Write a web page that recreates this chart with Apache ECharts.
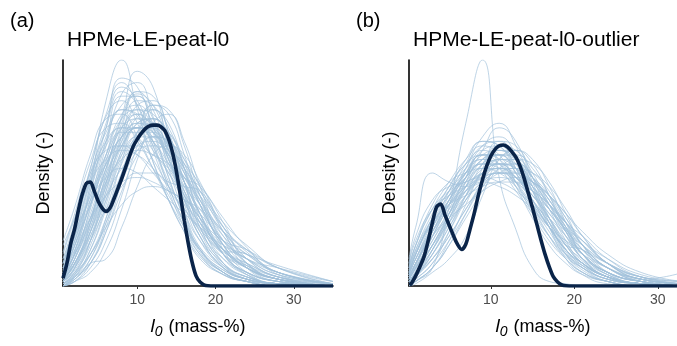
<!DOCTYPE html>
<html lang="en">
<head>
<meta charset="UTF-8">
<title>l0 densities</title>
<script src="https://cdn.jsdelivr.net/npm/echarts@6/dist/echarts.min.js"></script>
<style>
  html, body { margin: 0; padding: 0; background: #fff; }
  #main { width: 677px; height: 346px; }
</style>
</head>
<body>
<div id="main"></div>
<script>
// density values are stored x1000 (the y axis carries no labels)
var xTicks = [10, 20, 30];

// panel (a): HPMe-LE-peat-l0
var gridXA = [0.5, 2, 4, 6, 8, 10, 12, 14, 16, 18, 21, 24, 28, 35];
var curvesA = [
  [3, 15, 45, 82, 100, 78, 55, 38, 24, 12, 5, 2, 0, 0],
  [1, 8, 28, 55, 75, 95, 88, 60, 34, 17, 6, 2, 0, 0],
  [5, 18, 42, 70, 92, 88, 70, 48, 30, 15, 6, 2, 0, 0],
  [2, 12, 35, 62, 85, 90, 75, 52, 32, 16, 6, 2, 1, 0],
  [8, 22, 48, 72, 88, 82, 64, 44, 28, 14, 5, 2, 0, 0],
  [0, 5, 20, 45, 70, 85, 80, 62, 40, 22, 8, 3, 1, 0],
  [10, 25, 50, 68, 78, 75, 62, 46, 32, 20, 9, 4, 1, 0],
  [4, 14, 34, 58, 76, 80, 72, 56, 38, 22, 10, 4, 1, 0],
  [12, 28, 52, 75, 82, 72, 55, 38, 24, 13, 5, 2, 0, 0],
  [2, 10, 26, 48, 68, 78, 76, 64, 46, 28, 12, 5, 1, 0],
  [6, 20, 44, 66, 80, 84, 74, 56, 36, 20, 8, 3, 1, 0],
  [1, 6, 18, 38, 60, 75, 78, 70, 52, 32, 14, 6, 2, 0],
  [15, 32, 55, 70, 72, 64, 52, 40, 28, 17, 8, 3, 1, 0],
  [3, 12, 30, 50, 62, 70, 70, 62, 50, 36, 18, 8, 2, 0],
  [0, 3, 12, 30, 55, 72, 74, 66, 50, 32, 14, 6, 2, 0],
  [20, 35, 58, 74, 76, 66, 52, 38, 26, 16, 7, 3, 1, 0],
  [5, 16, 36, 56, 70, 74, 68, 56, 42, 28, 14, 8, 3, 0],
  [2, 10, 24, 44, 64, 80, 82, 68, 46, 26, 10, 4, 1, 0],
  [8, 24, 46, 62, 70, 70, 64, 54, 42, 30, 16, 9, 3, 0],
  [1, 4, 10, 24, 46, 66, 80, 76, 58, 36, 14, 5, 1, 0],
  [10, 26, 48, 64, 70, 66, 56, 44, 34, 25, 15, 10, 4, 0],
  [3, 10, 22, 38, 56, 68, 72, 68, 56, 40, 20, 9, 3, 0],
  [0, 2, 8, 20, 40, 62, 78, 72, 52, 30, 10, 3, 0, 0],
  [6, 18, 36, 54, 66, 70, 66, 58, 46, 32, 16, 14, 6, 1],
  [4, 12, 30, 52, 72, 86, 84, 68, 46, 26, 10, 4, 1, 0],
  [2, 6, 14, 28, 46, 60, 66, 64, 56, 44, 26, 16, 6, 1],
  [14, 30, 50, 60, 62, 58, 50, 42, 34, 26, 16, 10, 4, 1],
  [0, 4, 16, 36, 58, 70, 70, 60, 46, 32, 16, 8, 3, 0],
  [5, 14, 28, 44, 58, 66, 66, 60, 50, 38, 22, 14, 6, 1],
  [2, 8, 22, 42, 62, 74, 72, 60, 44, 30, 14, 6, 2, 0],
  [1, 3, 10, 12, 26, 44, 58, 62, 58, 46, 26, 12, 4, 0],
  [8, 20, 40, 58, 68, 68, 60, 50, 40, 30, 20, 16, 8, 1],
  [3, 10, 24, 40, 52, 60, 62, 60, 54, 45, 30, 17, 5, 0],
  [1, 5, 16, 34, 54, 66, 68, 62, 52, 42, 24, 10, 3, 0],
  [18, 30, 46, 56, 60, 58, 52, 44, 36, 28, 16, 8, 3, 0],
  [4, 15, 38, 64, 84, 84, 68, 48, 30, 16, 6, 2, 0, 0],
  [0, 4, 14, 30, 50, 62, 64, 58, 48, 38, 24, 14, 6, 1],
  [6, 18, 38, 58, 74, 78, 70, 54, 38, 24, 12, 6, 2, 0],
  [2, 7, 20, 40, 60, 72, 74, 66, 52, 36, 18, 8, 3, 1],
  [10, 22, 40, 54, 62, 62, 58, 52, 44, 34, 20, 12, 5, 1],
  [1, 6, 20, 42, 66, 82, 80, 64, 42, 24, 9, 3, 1, 0],
  [3, 10, 26, 46, 62, 70, 68, 58, 46, 36, 24, 12, 4, 0],
  [5, 14, 32, 52, 66, 72, 68, 58, 48, 44, 28, 10, 3, 0],
  [0, 2, 6, 16, 34, 56, 72, 76, 64, 44, 18, 6, 1, 0],
  [7, 22, 46, 70, 86, 80, 62, 44, 28, 16, 7, 3, 1, 0],
  [2, 8, 20, 34, 44, 50, 50, 46, 44, 42, 24, 8, 2, 0],
  [6, 16, 30, 40, 46, 48, 46, 42, 38, 32, 20, 12, 5, 1],
  [1, 5, 14, 26, 36, 42, 44, 42, 38, 34, 24, 16, 8, 2],
  [12, 24, 38, 48, 52, 50, 44, 38, 32, 26, 18, 14, 9, 2],
  [3, 9, 24, 46, 66, 76, 70, 56, 40, 26, 14, 9, 4, 1],
  [0, 3, 10, 24, 42, 58, 66, 64, 54, 42, 28, 18, 8, 1],
  [8, 20, 42, 64, 78, 76, 64, 50, 38, 28, 16, 8, 3, 0],
  [4, 12, 28, 48, 64, 72, 70, 62, 52, 40, 22, 10, 3, 0],
  [2, 8, 24, 50, 74, 86, 78, 58, 38, 22, 8, 3, 1, 0],
  [10, 26, 52, 76, 90, 80, 60, 42, 26, 14, 6, 2, 0, 0],
  [1, 4, 12, 28, 50, 68, 74, 68, 54, 38, 20, 12, 8, 2],
  [5, 14, 30, 46, 56, 60, 58, 54, 48, 40, 26, 15, 6, 1],
  [3, 10, 28, 52, 70, 76, 70, 60, 48, 36, 18, 8, 3, 0],
  [7, 18, 36, 54, 66, 70, 64, 52, 40, 30, 18, 12, 6, 1],
  [0, 2, 10, 26, 48, 68, 80, 78, 62, 40, 16, 5, 1, 0]
];
var boldXA = [0.5, 1, 1.5, 2, 2.5, 3, 3.5, 4, 4.5, 5, 5.5, 6, 6.5, 7, 7.5, 8, 8.5, 9, 9.5, 10,
  10.5, 11, 11.5, 12, 12.5, 13, 13.5, 14, 14.5, 15, 15.5, 16, 16.5, 17, 17.5, 18, 18.5, 19, 20, 35];
var boldYA = [3.4, 10, 19, 25.5, 34, 41, 45.5, 46, 42, 37.5, 34.5, 33, 34.5, 38.5, 43, 47.5, 52.5, 57.5, 62, 65,
  67.5, 69.5, 70.7, 71.2, 71.2, 70.5, 68.8, 65, 59, 50.5, 40, 29, 19, 10.5, 4.5, 1.8, 0.5, 0.1, 0, 0];

// panel (b): HPMe-LE-peat-l0-outlier
var gridXB = [0.2, 1, 3, 5, 7, 9, 11, 13, 15, 17, 19, 21, 24, 28, 33];
var curvesB = [
  [1, 2, 8, 35, 72, 100, 48, 25, 8, 2, 1, 0, 0, 0, 0],
  [2, 6, 18, 32, 48, 60, 62, 52, 36, 22, 12, 6, 2, 0, 0],
  [4, 10, 24, 38, 50, 58, 56, 46, 34, 22, 13, 8, 3, 1, 0],
  [1, 4, 14, 28, 44, 56, 60, 56, 44, 30, 18, 10, 4, 1, 0],
  [6, 14, 30, 42, 52, 56, 52, 42, 32, 22, 14, 9, 4, 1, 0],
  [3, 8, 22, 36, 50, 62, 66, 58, 42, 26, 14, 7, 2, 0, 0],
  [8, 18, 36, 46, 50, 52, 50, 44, 36, 26, 16, 10, 4, 1, 0],
  [2, 6, 16, 30, 46, 60, 70, 64, 46, 28, 14, 6, 2, 0, 0],
  [10, 20, 34, 40, 44, 48, 50, 46, 38, 28, 18, 12, 6, 2, 1],
  [1, 3, 10, 24, 40, 54, 62, 60, 50, 36, 22, 12, 4, 1, 0],
  [5, 12, 28, 40, 48, 54, 54, 48, 40, 30, 20, 14, 8, 3, 1],
  [12, 26, 50, 46, 44, 46, 44, 40, 34, 26, 16, 9, 3, 1, 0],
  [3, 8, 20, 34, 48, 58, 58, 50, 38, 26, 18, 16, 8, 2, 0],
  [0, 2, 8, 20, 36, 52, 64, 62, 48, 30, 16, 8, 2, 0, 0],
  [4, 10, 22, 32, 42, 50, 54, 52, 44, 34, 24, 14, 6, 2, 0],
  [7, 16, 32, 44, 54, 60, 56, 44, 30, 18, 10, 5, 2, 0, 0],
  [2, 5, 14, 26, 40, 50, 54, 52, 46, 38, 26, 20, 10, 3, 1],
  [3, 10, 26, 40, 54, 64, 62, 50, 36, 24, 14, 8, 3, 1, 0],
  [5, 12, 24, 34, 42, 48, 50, 48, 42, 34, 25, 16, 8, 3, 1],
  [1, 4, 12, 24, 38, 50, 58, 58, 52, 40, 26, 14, 6, 2, 0],
  [9, 18, 34, 42, 46, 48, 46, 42, 36, 30, 22, 14, 6, 2, 0],
  [2, 6, 18, 32, 46, 56, 58, 52, 42, 32, 22, 12, 5, 1, 0],
  [0, 1, 6, 12, 22, 40, 56, 60, 54, 40, 24, 12, 4, 1, 0],
  [6, 14, 28, 38, 48, 54, 54, 48, 38, 28, 18, 10, 4, 1, 0],
  [3, 8, 22, 36, 52, 66, 72, 62, 44, 26, 12, 5, 1, 0, 0],
  [4, 10, 24, 36, 46, 52, 52, 48, 40, 32, 24, 18, 10, 4, 2],
  [2, 6, 18, 30, 42, 52, 56, 52, 44, 34, 25, 16, 8, 3, 6],
  [1, 4, 14, 26, 38, 46, 50, 50, 46, 40, 32, 22, 10, 3, 1],
  [8, 16, 30, 40, 50, 58, 58, 50, 38, 26, 16, 9, 3, 1, 0],
  [3, 8, 20, 32, 44, 54, 60, 58, 48, 34, 20, 10, 4, 1, 0],
  [5, 14, 30, 42, 50, 54, 52, 46, 40, 34, 25, 14, 6, 2, 0],
  [2, 5, 12, 22, 34, 46, 56, 60, 56, 44, 28, 14, 5, 1, 0],
  [6, 14, 28, 36, 40, 44, 46, 46, 42, 36, 28, 18, 8, 3, 1],
  [1, 4, 16, 32, 48, 58, 60, 54, 42, 30, 18, 10, 4, 1, 0],
  [4, 10, 22, 30, 36, 42, 46, 48, 46, 40, 32, 24, 14, 6, 2],
  [2, 7, 22, 38, 52, 62, 64, 56, 42, 28, 15, 8, 3, 1, 0],
  [10, 22, 38, 44, 46, 50, 52, 48, 40, 30, 19, 11, 4, 1, 0],
  [0, 2, 8, 18, 32, 46, 56, 56, 48, 38, 28, 18, 8, 2, 0],
  [3, 9, 24, 38, 50, 56, 54, 46, 36, 26, 16, 10, 4, 1, 0],
  [5, 12, 26, 38, 48, 56, 60, 56, 46, 36, 24, 12, 4, 1, 0],
  [2, 6, 16, 28, 40, 50, 56, 54, 46, 36, 28, 22, 12, 4, 1],
  [3, 8, 18, 28, 38, 46, 50, 50, 46, 40, 30, 18, 8, 3, 1],
  [6, 14, 30, 44, 54, 58, 54, 44, 34, 26, 20, 16, 10, 4, 1],
  [1, 3, 10, 20, 32, 44, 52, 54, 50, 42, 30, 20, 10, 3, 1],
  [8, 18, 34, 46, 56, 62, 58, 46, 32, 20, 12, 6, 2, 0, 0],
  [2, 6, 18, 30, 40, 48, 52, 52, 48, 40, 28, 16, 6, 2, 0],
  [4, 10, 26, 42, 56, 64, 62, 52, 38, 26, 16, 10, 4, 1, 0],
  [1, 4, 12, 22, 34, 44, 50, 52, 50, 44, 34, 22, 10, 4, 2],
  [5, 12, 26, 36, 44, 50, 52, 50, 44, 36, 26, 14, 5, 1, 0],
  [3, 9, 24, 36, 44, 50, 54, 54, 48, 38, 26, 18, 10, 4, 1],
  [2, 5, 16, 30, 44, 54, 58, 56, 48, 36, 24, 14, 6, 2, 0],
  [7, 15, 28, 36, 42, 46, 48, 46, 42, 36, 28, 20, 12, 5, 2],
  [0, 2, 8, 18, 30, 42, 52, 56, 54, 46, 32, 18, 6, 1, 0]
];
var boldXB = [0.28, 0.5, 1, 1.5, 2, 2.5, 3, 3.5, 4, 4.5, 5, 5.5, 6, 6.5, 7, 7.5, 8, 8.5, 9, 9.5, 10,
  10.5, 11, 11.5, 12, 12.5, 13, 13.5, 14, 14.5, 15, 15.5, 16, 16.5, 17, 17.5, 18, 18.5, 19, 20, 33];
var boldYB = [0.4, 1.2, 4.5, 8.5, 13, 20, 28, 35, 36.3, 31.5, 27, 22.5, 18.5, 16.2, 18.5, 25, 32, 40, 47, 53, 57.5,
  60.5, 62, 62.4, 61.5, 59.5, 57, 53, 47.5, 41, 34.5, 27.5, 20.5, 14, 8.5, 4, 1.8, 0.5, 0.1, 0, 0];

var FONT = '"Liberation Sans", Arial, Helvetica, sans-serif';
var lightColor = 'rgba(163, 194, 219, 0.7)';
var boldColor = '#0a2449';

var myChart = echarts.init(document.getElementById('main'));

function zip(xs, ys) {
  return xs.map(function (x, i) { return [x, ys[i]]; });
}

var series = [];
function addPanel(idx, gridX, curves, bx, by) {
  curves.forEach(function (c) {
    series.push({
      type: 'line', xAxisIndex: idx, yAxisIndex: idx,
      data: zip(gridX, c), smooth: 0.5, symbol: 'none', silent: true,
      lineStyle: { color: lightColor, width: 1 }, z: 2
    });
  });
  series.push({
    type: 'line', xAxisIndex: idx, yAxisIndex: idx,
    data: zip(bx, by), smooth: 0.3, symbol: 'none', silent: true,
    lineStyle: { color: boldColor, width: 3.6 }, z: 5
  });
}
addPanel(0, gridXA, curvesA, boldXA, boldYA);
addPanel(1, gridXB, curvesB, boldXB, boldYB);

function xAxis(idx, min, max) {
  return {
    type: 'value', gridIndex: idx, min: min, max: max,
    name: '{i|l}{s|0} (mass-%)', nameLocation: 'middle', nameGap: 29,
    nameTextStyle: {
      color: '#000', fontSize: 18, fontFamily: FONT,
      rich: {
        i: { fontStyle: 'italic', fontSize: 19, fontFamily: FONT, color: '#000' },
        s: { fontStyle: 'italic', fontSize: 14, fontFamily: FONT, color: '#000', verticalAlign: 'bottom', padding: [10, 1, 0, 0] }
      }
    },
    axisLine: { show: true, onZero: false, lineStyle: { color: '#000', width: 1.6 } },
    axisTick: { show: true, length: 3, customValues: xTicks, lineStyle: { color: '#333', width: 1 } },
    axisLabel: { customValues: xTicks, color: '#4d4d4d', fontSize: 14, fontFamily: FONT, margin: 7 },
    splitLine: { show: false }
  };
}
function yAxis(idx) {
  return {
    type: 'value', gridIndex: idx, min: 0, max: 100,
    name: 'Density (-)', nameLocation: 'middle', nameGap: 10,
    nameTextStyle: { color: '#000', fontSize: 18, fontFamily: FONT },
    axisLine: { show: true, lineStyle: { color: '#000', width: 1.6 } },
    axisTick: { show: false }, axisLabel: { show: false }, splitLine: { show: false }
  };
}

var option = {
  backgroundColor: '#fff',
  animation: false,
  title: [
    { text: '(a)', left: 5, top: 6, textStyle: { fontSize: 20, fontWeight: 'normal', color: '#000', fontFamily: FONT } },
    { text: 'HPMe-LE-peat-l0', left: 62, top: 25, textStyle: { fontSize: 21, fontWeight: 'normal', color: '#000', fontFamily: FONT } },
    { text: '(b)', left: 351, top: 6, textStyle: { fontSize: 20, fontWeight: 'normal', color: '#000', fontFamily: FONT } },
    { text: 'HPMe-LE-peat-l0-outlier', left: 408, top: 25, textStyle: { fontSize: 21, fontWeight: 'normal', color: '#000', fontFamily: FONT } }
  ],
  grid: [
    { left: 63, top: 60, width: 270, height: 226 },
    { left: 409, top: 60, width: 268, height: 226 }
  ],
  xAxis: [xAxis(0, 0.5, 35), xAxis(1, 0.2, 32.3)],
  yAxis: [yAxis(0), yAxis(1)],
  series: series
};

myChart.setOption(option);
</script>
</body>
</html>
